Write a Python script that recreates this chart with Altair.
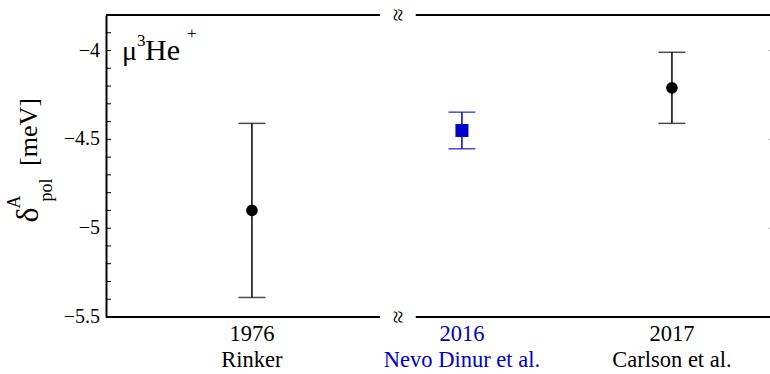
import altair as alt
import pandas as pd

# ---------------- data ----------------
years = ["1976", "2016", "2017"]
authors = ["Rinker", "Nevo Dinur et al.", "Carlson et al."]
values = [-4.90, -4.45, -4.21]
errors = [0.49, 0.103, 0.20]
groups = ["other", "this work", "other"]

y_major = [-5.5, -5.0, -4.5, -4.0]
y_major_labels = ["\u22125.5", "\u22125", "\u22124.5", "\u22124"]
y_all_ticks = [-5.5, -5.4, -5.3, -5.2, -5.1, -5.0, -4.9, -4.8, -4.7, -4.6,
               -4.5, -4.4, -4.3, -4.2, -4.1, -4.0, -3.9]

df = pd.DataFrame({
    "idx": list(range(len(years))),
    "year": years,
    "author": authors,
    "value": values,
    "err": errors,
    "group": groups,
})
df["lo"] = df["value"] - df["err"]
df["hi"] = df["value"] + df["err"]

# ---------------- layout ----------------
W, H = 664, 302
X_MIN, X_MAX = -0.695, 2.467
BREAK_LO, BREAK_MID, BREAK_HI = 0.61, 0.69, 0.78
SERIF = "Liberation Serif"

xscale = alt.Scale(domain=[X_MIN, X_MAX], nice=False, zero=False)
yscale = alt.Scale(domain=[-5.5, -3.8], nice=False, zero=False)
gdom = ["other", "this work"]
bar_scale = alt.Scale(domain=gdom, range=["black", "#0000cc"])
pt_scale = alt.Scale(domain=gdom, range=["black", "#0000ff"])
txt_scale = alt.Scale(domain=gdom, range=["black", "#0000ff"])
shape_scale = alt.Scale(domain=gdom, range=["circle", "square"])
size_scale = alt.Scale(domain=gdom, range=[135, 169])

y_axis = alt.Axis(
    values=y_major, labels=False, ticks=False, grid=False, title=None,
    domainColor="black", domainWidth=2,
)


def X(field):
    return alt.X(field, scale=xscale, axis=None)


def Y(field):
    return alt.Y(field, scale=yscale, axis=y_axis)


base = alt.Chart(df)

bars = base.mark_rule(strokeWidth=1.5).encode(
    x=X("idx:Q"), y=Y("lo:Q"), y2="hi:Q",
    color=alt.Color("group:N", scale=bar_scale, legend=None),
)
cap_lo = base.mark_tick(orient="horizontal", size=27, thickness=1.5).encode(
    x=X("idx:Q"), y=Y("lo:Q"),
    color=alt.Color("group:N", scale=bar_scale, legend=None),
)
cap_hi = base.mark_tick(orient="horizontal", size=27, thickness=1.5).encode(
    x=X("idx:Q"), y=Y("hi:Q"),
    color=alt.Color("group:N", scale=bar_scale, legend=None),
)
points = base.mark_point(filled=True, opacity=1).encode(
    x=X("idx:Q"), y=Y("value:Q"),
    color=alt.Color("group:N", scale=pt_scale, legend=None),
    shape=alt.Shape("group:N", scale=shape_scale, legend=None),
    size=alt.Size("group:N", scale=size_scale, legend=None),
)

# category labels under the plot
year_lbl = base.mark_text(font=SERIF, fontSize=22.5, align="center", baseline="alphabetic").encode(
    x=X("idx:Q"), y=alt.value(H + 24), text="year:N",
    color=alt.Color("group:N", scale=txt_scale, legend=None),
)
auth_lbl = base.mark_text(font=SERIF, fontSize=22.5, align="center", baseline="alphabetic").encode(
    x=X("idx:Q"), y=alt.value(H + 50), text="author:N",
    color=alt.Color("group:N", scale=txt_scale, legend=None),
)

# y tick labels and inward ticks
ylab_df = pd.DataFrame({"t": y_major, "lab": y_major_labels})
y_lbl = alt.Chart(ylab_df).mark_text(font=SERIF, fontSize=20, align="right", baseline="middle",
                                     color="black").encode(
    x=alt.value(-6), y=Y("t:Q"), text="lab:N")
tick_df = pd.DataFrame({"t": y_all_ticks})
left_ticks = alt.Chart(tick_df).mark_rule(color="black", strokeWidth=1).encode(
    x=alt.value(0), x2=alt.value(5), y=Y("t:Q"),
)
right_ticks = alt.Chart(pd.DataFrame({"t": y_major})).mark_rule(color="#bbbbbb", strokeWidth=1).encode(
    x=alt.value(W - 2), x2=alt.value(W), y=Y("t:Q"),
)

# broken top / bottom frame
seg_df = pd.DataFrame({"a": [X_MIN, BREAK_HI], "b": [BREAK_LO, X_MAX]})
top_line = alt.Chart(seg_df).mark_rule(color="black", strokeWidth=2).encode(
    x=X("a:Q"), x2="b:Q", y=alt.value(0))
bot_line = alt.Chart(seg_df).mark_rule(color="black", strokeWidth=2).encode(
    x=X("a:Q"), x2="b:Q", y=alt.value(H))
brk_df = pd.DataFrame({"m": [BREAK_MID]})
brk_top = alt.Chart(brk_df).mark_text(text="≈", angle=90, fontSize=24, font=SERIF,
                                      align="center", baseline="middle", color="black").encode(
    x=X("m:Q"), y=alt.value(0))
brk_bot = alt.Chart(brk_df).mark_text(text="≈", angle=90, fontSize=24, font=SERIF,
                                      align="center", baseline="middle", color="black").encode(
    x=X("m:Q"), y=alt.value(H))


def label(txt, x, y, size, angle=0, align="left", baseline="alphabetic", color="black"):
    kw = dict(text=txt, fontSize=size, font=SERIF, align=align, baseline=baseline, color=color)
    if angle:
        kw["angle"] = angle
    return alt.Chart(pd.DataFrame({"k": [0]})).mark_text(**kw).encode(
        x=alt.value(x), y=alt.value(y))


# annotation  μ³He⁺
ann = [
    label("μ", 16, 45, 28),
    label("3", 31, 31, 17),
    label("He", 39, 45, 30),
    label("+", 81, 24, 17),
]
# y title  δ^A_pol [meV]
ytitle = [
    label("δ", -68, 200, 32, angle=270, align="center"),
    label("A", -86, 187, 18, angle=270, align="center"),
    label("pol", -54, 175, 18, angle=270, align="center"),
    label("[meV]", -69, 117, 26, angle=270, align="center"),
]

chart = alt.layer(
    bars, cap_lo, cap_hi, points, year_lbl, auth_lbl, y_lbl, left_ticks, right_ticks,
    top_line, bot_line, brk_top, brk_bot, *ann, *ytitle,
).properties(
    width=W, height=H,
    autosize=alt.AutoSizeParams(type="none"),
    padding={"left": 106, "top": 15, "right": 0, "bottom": 57},
    background="white",
).configure_view(stroke=None)

chart.save("out.html", embed_options={"renderer": "svg", "actions": False})
